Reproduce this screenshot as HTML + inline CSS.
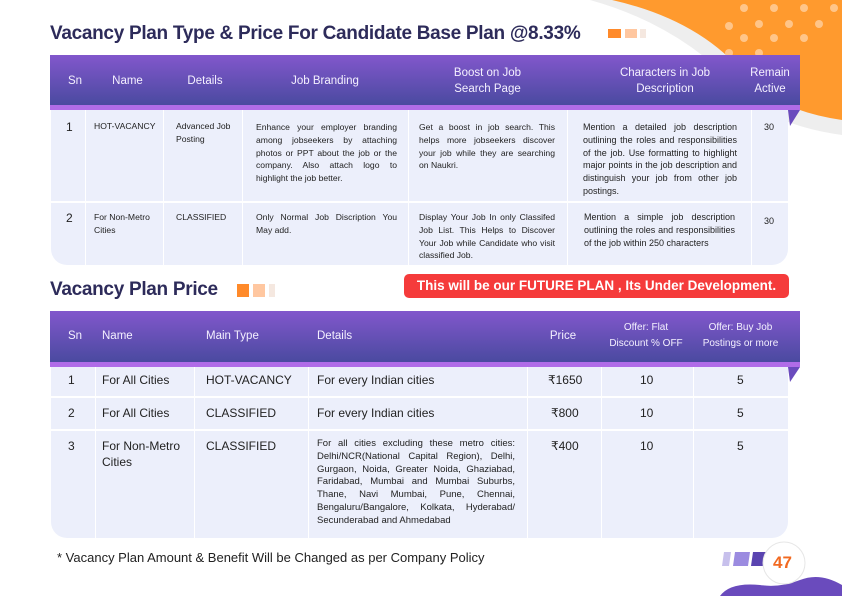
<!DOCTYPE html>
<html><head><meta charset="utf-8"><style>
*{margin:0;padding:0;box-sizing:border-box}
body{width:842px;height:596px;overflow:hidden;background:#fff;font-family:"Liberation Sans",sans-serif;position:relative;color:#222}
.a{position:absolute}
.t{font-weight:bold;color:#2d2b5a;font-size:19px;letter-spacing:-0.3px}
.hd{background:linear-gradient(#8257cc,#4a4aa0);border-bottom:5px solid #b06ce8}
.hc{position:absolute;color:#f4f0ff;font-size:11.5px;line-height:16px;text-align:center}
.body{background:#eceffb;border-radius:0 0 16px 16px}
.vl{position:absolute;width:1px;background:#fff;}
.hl{position:absolute;height:2px;background:#fff}
.s{position:absolute;font-size:8.6px;line-height:12.8px;color:#222}
.j{text-align:justify;text-align-last:left}
.m{position:absolute;font-size:12px;line-height:16px;color:#222}
</style></head><body>
<svg class="a" style="left:0;top:0" width="842" height="596">
<path d="M590 0 Q680 25 740 90 Q770 125 842 135 L842 0Z" fill="#eeeeee"/>
<path d="M612 0 Q700 20 745 75 Q775 110 842 120 L842 0Z" fill="#ff9a2e"/>
<g fill="#ffd0a0" opacity="0.8">
<circle cx="744" cy="8" r="4"/><circle cx="774" cy="8" r="4"/><circle cx="804" cy="8" r="4"/><circle cx="834" cy="8" r="4"/>
<circle cx="729" cy="26" r="4"/><circle cx="759" cy="24" r="4"/><circle cx="789" cy="24" r="4"/><circle cx="819" cy="24" r="4"/>
<circle cx="744" cy="38" r="4"/><circle cx="774" cy="38" r="4"/><circle cx="804" cy="38" r="4"/>
<circle cx="729" cy="53" r="4"/><circle cx="759" cy="53" r="4"/>
</g>
<path d="M788 110 L800 110 L790 126Z" fill="#6a4bbd"/>
<path d="M788 367 L800 367 L790 382Z" fill="#6a4bbd"/>
<path d="M720 596 Q730 582 760 585 Q780 588 800 580 Q820 572 842 585 L842 596Z" fill="#6a4bbd"/>
<path d="M724 552 L731 552 L729 566 L722 566Z" fill="#c7c0ec"/>
<path d="M735 552 L750 552 L748 566 L733 566Z" fill="#9b8be0"/>
<path d="M753 552 L768 552 L766 566 L751 566Z" fill="#5a44b0"/>
<circle cx="784" cy="563" r="21" fill="#fff" stroke="#e6e6e6"/>
<rect x="608" y="29" width="13" height="9" fill="#ff8a2a"/>
<rect x="625" y="29" width="12" height="9" fill="#ffc7a0"/>
<rect x="640" y="29" width="6" height="9" fill="#f5e8e0"/>
<rect x="237" y="284" width="12" height="13" fill="#ff8a2a"/>
<rect x="253" y="284" width="12" height="13" fill="#ffc7a0"/>
<rect x="269" y="284" width="6" height="13" fill="#f5e8e0"/>
</svg>
<div class="a" style="left:773px;top:553px;color:#f26a21;font-weight:bold;font-size:17px">47</div>

<div class="a t" style="left:50px;top:23px">Vacancy Plan Type &amp; Price For Candidate Base Plan @8.33%</div>

<div class="a hd" style="left:50px;top:55px;width:750px;height:55px"></div>
<div class="hc" style="left:56px;top:73px;width:38px">Sn</div>
<div class="hc" style="left:95px;top:73px;width:65px">Name</div>
<div class="hc" style="left:170px;top:73px;width:70px">Details</div>
<div class="hc" style="left:245px;top:73px;width:160px">Job Branding</div>
<div class="hc" style="left:410px;top:65px;width:155px">Boost on Job<br>Search Page</div>
<div class="hc" style="left:570px;top:65px;width:190px">Characters in Job<br>Description</div>
<div class="hc" style="left:740px;top:65px;width:60px">Remain<br>Active</div>
<div class="a body" style="left:51px;top:110px;width:737px;height:155px"></div>
<div class="vl" style="left:85px;top:110px;height:155px"></div>
<div class="vl" style="left:163px;top:110px;height:155px"></div>
<div class="vl" style="left:242px;top:110px;height:155px"></div>
<div class="vl" style="left:408px;top:110px;height:155px"></div>
<div class="vl" style="left:567px;top:110px;height:155px"></div>
<div class="vl" style="left:751px;top:110px;height:155px"></div>
<div class="hl" style="left:51px;top:201px;width:737px"></div>
<div class="m" style="left:66px;top:119px">1</div>
<div class="s" style="left:94px;top:120px">HOT-VACANCY</div>
<div class="s" style="left:176px;top:120px;width:64px">Advanced Job Posting</div>
<div class="s j" style="left:256px;top:121px;width:141px">Enhance your employer branding among jobseekers by attaching photos or PPT about the job or the company. Also attach logo to highlight the job better.</div>
<div class="s j" style="left:419px;top:121px;width:136px">Get a boost in job search. This helps more jobseekers discover your job while they are searching on Naukri.</div>
<div class="s j" style="left:583px;top:121px;width:154px;font-size:9px">Mention a detailed job description outlining the roles and responsibilities of the job. Use formatting to highlight major points in the job description and distinguish your job from other job postings.</div>
<div class="s" style="left:764px;top:121px;font-size:9px">30</div>
<div class="m" style="left:66px;top:210px">2</div>
<div class="s" style="left:94px;top:211px">For Non-Metro<br>Cities</div>
<div class="s" style="left:176px;top:211px">CLASSIFIED</div>
<div class="s j" style="left:256px;top:211px;width:141px">Only Normal Job Discription You May add.</div>
<div class="s j" style="left:419px;top:211px;width:136px">Display Your Job In only Classifed Job List. This Helps to Discover Your Job while Candidate who visit classified Job.</div>
<div class="s j" style="left:584px;top:211px;width:151px;font-size:9px">Mention a simple job description outlining the roles and responsibilities of the job within 250 characters</div>
<div class="s" style="left:764px;top:215px;font-size:9px">30</div>

<div class="a t" style="left:50px;top:279px">Vacancy Plan Price</div>
<div class="a" style="left:404px;top:274px;width:385px;height:24px;background:#f53b3b;border-radius:5px;color:#fff;font-weight:bold;font-size:13.5px;line-height:24px;text-align:center">This will be our FUTURE PLAN , Its Under Development.</div>

<div class="a hd" style="left:50px;top:311px;width:750px;height:56px"></div>
<div class="hc" style="left:60px;top:328px;width:30px">Sn</div>
<div class="hc" style="left:102px;top:328px;text-align:left">Name</div>
<div class="hc" style="left:206px;top:328px;text-align:left">Main Type</div>
<div class="hc" style="left:317px;top:328px;text-align:left">Details</div>
<div class="hc" style="left:535px;top:328px;width:56px">Price</div>
<div class="hc" style="left:600px;top:320px;width:92px;font-size:10px">Offer: Flat<br>Discount % OFF</div>
<div class="hc" style="left:693px;top:320px;width:95px;font-size:10px">Offer: Buy Job<br>Postings or more</div>
<div class="a body" style="left:51px;top:367px;width:737px;height:171px"></div>
<div class="vl" style="left:95px;top:367px;height:171px"></div>
<div class="vl" style="left:194px;top:367px;height:171px"></div>
<div class="vl" style="left:308px;top:367px;height:171px"></div>
<div class="vl" style="left:527px;top:367px;height:171px"></div>
<div class="vl" style="left:601px;top:367px;height:171px"></div>
<div class="vl" style="left:693px;top:367px;height:171px"></div>
<div class="hl" style="left:51px;top:396px;width:737px"></div>
<div class="hl" style="left:51px;top:429px;width:737px"></div>
<div class="m" style="left:68px;top:372px">1</div>
<div class="m" style="left:102px;top:372px">For All Cities</div>
<div class="m" style="left:206px;top:372px">HOT-VACANCY</div>
<div class="m" style="left:317px;top:372px">For every Indian cities</div>
<div class="m" style="left:548px;top:372px">₹1650</div>
<div class="m" style="left:640px;top:372px">10</div>
<div class="m" style="left:737px;top:372px">5</div>
<div class="m" style="left:68px;top:405px">2</div>
<div class="m" style="left:102px;top:405px">For All Cities</div>
<div class="m" style="left:206px;top:405px">CLASSIFIED</div>
<div class="m" style="left:317px;top:405px">For every Indian cities</div>
<div class="m" style="left:551px;top:405px">₹800</div>
<div class="m" style="left:640px;top:405px">10</div>
<div class="m" style="left:737px;top:405px">5</div>
<div class="m" style="left:68px;top:438px">3</div>
<div class="m" style="left:102px;top:438px">For Non-Metro<br>Cities</div>
<div class="m" style="left:206px;top:438px">CLASSIFIED</div>
<div class="s j" style="left:317px;top:438px;width:198px;font-size:9.5px">For all cities excluding these metro cities: Delhi/NCR(National Capital Region), Delhi, Gurgaon, Noida, Greater Noida, Ghaziabad, Faridabad, Mumbai and Mumbai Suburbs, Thane, Navi Mumbai, Pune, Chennai, Bengaluru/Bangalore, Kolkata, Hyderabad/ Secunderabad and Ahmedabad</div>
<div class="m" style="left:551px;top:438px">₹400</div>
<div class="m" style="left:640px;top:438px">10</div>
<div class="m" style="left:737px;top:438px">5</div>

<div class="a" style="left:57px;top:550px;font-size:13px;color:#222">* Vacancy Plan Amount &amp; Benefit Will be Changed as per Company Policy</div>
</body></html>
